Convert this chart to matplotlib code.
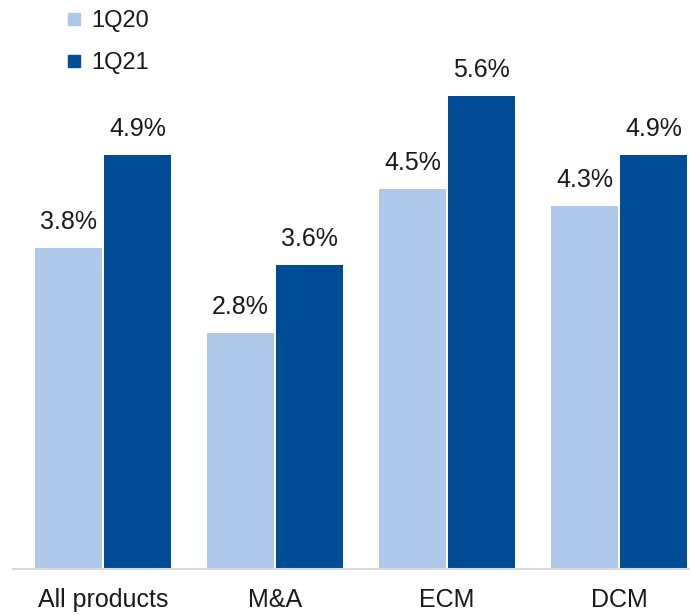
import matplotlib
matplotlib.use("Agg")
import matplotlib.pyplot as plt
import numpy as np
from matplotlib.lines import Line2D

categories = ["All products", "M&A", "ECM", "DCM"]
series_names = ["1Q20", "1Q21"]
values_1q20 = [3.8, 2.8, 4.5, 4.3]
values_1q21 = [4.9, 3.6, 5.6, 4.9]
colors = ["#adc8e8", "#004c97"]

plt.rcParams['font.family'] = ['Liberation Sans', 'DejaVu Sans']

W, H = 690, 615
fig = plt.figure(figsize=(W / 100, H / 100), dpi=100)
left_px, base_px = 13, 569
ax = fig.add_axes([left_px / W, (H - base_px) / H, 1 - left_px / W, base_px / H])

x = np.arange(len(categories))
width = 0.39
offs = [-0.2, 0.2]
for vals, off, col, name in zip([values_1q20, values_1q21], offs, colors, series_names):
    bars = ax.bar(x + off, vals, width=width, color=col, label=name)
    for b, v in zip(bars, vals):
        ax.annotate(f"{v:.1f}%", (b.get_x() + b.get_width() / 2, v),
                    xytext=(0, 13.7), textcoords='offset points',
                    ha='center', va='baseline', fontsize=18, color='#1a1a1a')

ax.set_xlim(-0.523, 3.413)
ax.set_ylim(0, 6.74)
ax.set_xticks(x)
ax.set_xticklabels(categories, fontsize=18, color='#1a1a1a')
ax.tick_params(axis='x', length=0, pad=14)
ax.set_yticks([])
for s in ['top', 'right', 'left']:
    ax.spines[s].set_visible(False)
ax.spines['bottom'].set_color('#d9d9d9')
ax.spines['bottom'].set_linewidth(1.5)

handles = [Line2D([], [], marker='s', linestyle='none', markersize=8.5,
                  markerfacecolor=c, markeredgecolor=c) for c in colors]
fig.legend(handles, series_names, loc='upper left', bbox_to_anchor=(65 / W, 1 - 10 / H),
           frameon=False, fontsize=17, handlelength=0.8, handletextpad=0.3,
           labelspacing=0.85, borderpad=0, borderaxespad=0, labelcolor='#1a1a1a')

fig.savefig("out.png", dpi=100)
